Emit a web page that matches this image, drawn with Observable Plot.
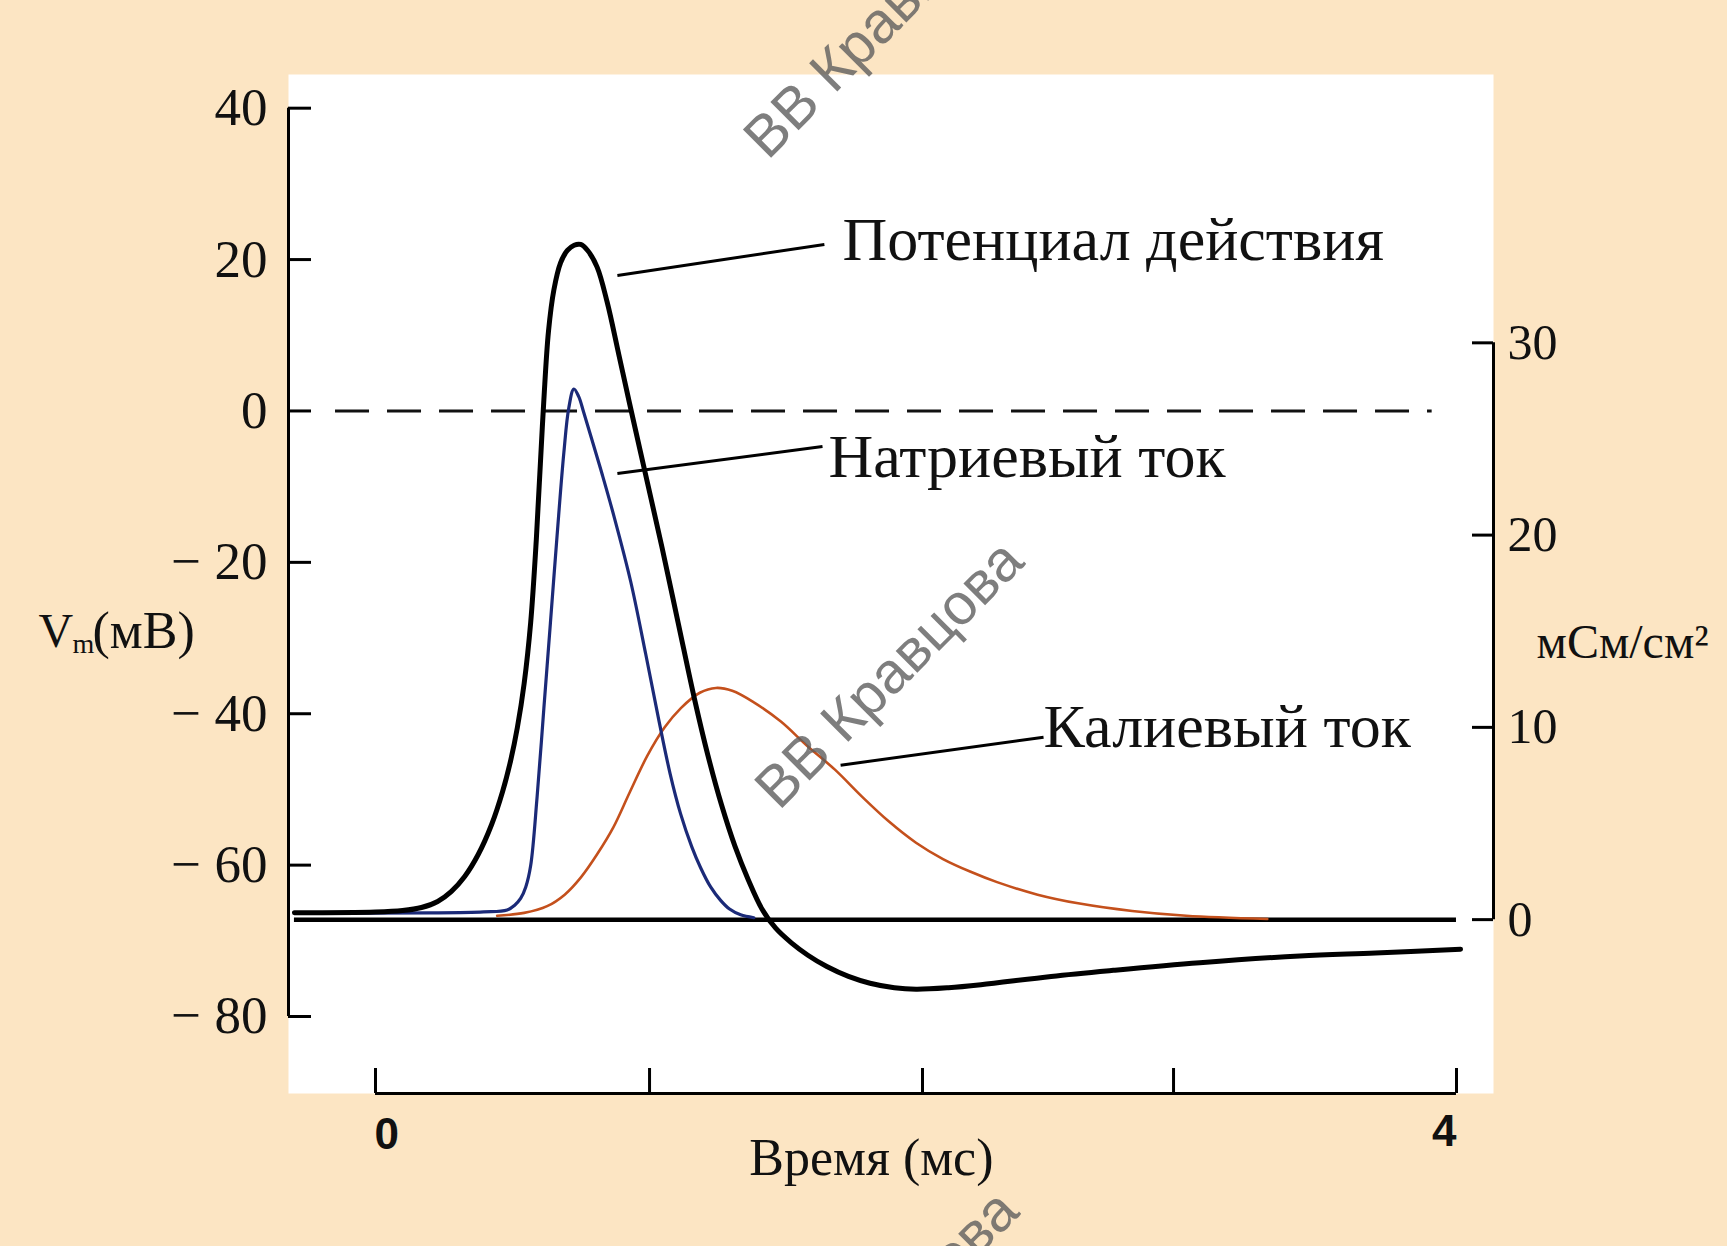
<!DOCTYPE html>
<html>
<head>
<meta charset="utf-8">
<script src="https://cdn.jsdelivr.net/npm/d3@7"></script>
<script src="https://cdn.jsdelivr.net/npm/@observablehq/plot@0.6"></script>
<style>
  html, body { margin: 0; padding: 0; background: #fce5c3; }
  #chart svg { display: block; }
</style>
</head>
<body>
<div id="chart"></div>
<script>
// ---- Data ----
// Action potential (time in ms, membrane potential in mV)
const apT = [-0.30, 0.00, 0.10, 0.17, 0.23, 0.28, 0.33, 0.38, 0.43, 0.47, 0.50, 0.525, 0.55, 0.574, 0.595, 0.61, 0.623, 0.64, 0.66, 0.685, 0.71, 0.735, 0.759, 0.785, 0.82, 0.857, 0.90, 0.94, 1.00, 1.06, 1.12, 1.18, 1.23, 1.28, 1.33, 1.38, 1.43, 1.48, 1.54, 1.60, 1.67, 1.75, 1.83, 1.92, 2.00, 2.12, 2.24, 2.50, 2.73, 3.05, 3.42, 3.70, 4.015];
const apV = [-66.3, -66.2, -66.0, -65.6, -64.8, -63.5, -61.5, -58.6, -54.6, -50.3, -46.2, -41.8, -36.0, -28.0, -17.0, -7.0, 1.5, 10.5, 16.0, 19.6, 21.2, 21.9, 22.0, 21.2, 19.0, 14.4, 7.5, 1.0, -8.5, -18.0, -28.0, -38.0, -45.5, -52.0, -57.5, -62.0, -65.8, -68.3, -70.3, -71.9, -73.4, -74.7, -75.6, -76.2, -76.4, -76.2, -75.8, -74.7, -73.9, -72.9, -72.0, -71.6, -71.1];

// Sodium conductance (ms, mS/cm²)
const naT = [-0.30, 0.20, 0.40, 0.487, 0.515, 0.537, 0.556, 0.574, 0.598, 0.623, 0.647, 0.672, 0.697, 0.715, 0.734, 0.752, 0.77, 0.80, 0.84, 0.882, 0.944, 1.00, 1.048, 1.09, 1.129, 1.17, 1.203, 1.24, 1.277, 1.31, 1.351, 1.40];
const naG = [0.35, 0.35, 0.4, 0.5, 0.75, 1.1, 1.7, 2.8, 6.4, 11.0, 15.4, 20.0, 24.3, 26.6, 27.6, 27.2, 26.4, 25.0, 23.1, 21.0, 17.6, 13.8, 10.4, 7.6, 5.5, 3.8, 2.7, 1.7, 1.0, 0.55, 0.25, 0.1];

// Potassium conductance (ms, mS/cm²)
const kT = [0.45, 0.55, 0.635, 0.70, 0.76, 0.82, 0.88, 0.94, 1.005, 1.07, 1.13, 1.20, 1.26, 1.32, 1.40, 1.50, 1.60, 1.70, 1.80, 1.90, 2.00, 2.10, 2.20, 2.30, 2.45, 2.60, 2.80, 3.00, 3.30];
const kG = [0.2, 0.35, 0.7, 1.3, 2.2, 3.4, 4.8, 6.6, 8.5, 10.0, 11.0, 11.8, 12.05, 11.9, 11.3, 10.3, 9.0, 7.8, 6.4, 5.1, 4.0, 3.15, 2.5, 1.95, 1.3, 0.85, 0.45, 0.2, 0.03];

// Axes
const yTicks = [40, 20, 0, -20, -40, -60, -80];
const gTicks = [0, 10, 20, 30];
const xTicks = [0, 1.014, 2.024, 2.953, 4];
const xTickLabels = ["0", "4"];

// Annotations
const labelText = ["Потенциал действия", "Натриевый ток", "Калиевый ток"];
const labelT = [1.728, 1.676, 2.472];
const labelV = [22.5, -6.1, -41.8];
const leaderT1 = [0.895, 0.895, 1.721];
const leaderV1 = [17.9, -8.26, -46.8];
const leaderT2 = [1.661, 1.654, 2.472];
const leaderV2 = [22.0, -4.7, -43.1];

const watermarkText = ["ВВ Кравцова", "ВВ Кравцова", "ВВ Кравцова"];
const watermarkT = [1.861, 1.902, 1.883];
const watermarkV = [51.1, -34.8, -120.7];

// conductance axis (right) expressed on the mV scale
const gZeroMv = -67.2, mvPerG = 2.54;
const gToMv = g => gZeroMv + mvPerG * g;

const xDomain = [-0.322, 4.137];
const yDomain = [-90.17, 44.45];

const W = 1727, H = 1246;
const mL = 288, mR = 234, mT = 74, mB = 153;
const plotW = W - mL - mR, plotH = H - mT - mB;

const apData = apT.map((t, i) => ({t, v: apV[i]}));
const naData = naT.map((t, i) => ({t, v: gToMv(naG[i])}));
const kData = kT.map((t, i) => ({t, v: gToMv(kG[i])}));
const labels = labelText.map((s, i) => ({s, t: labelT[i], v: labelV[i]}));
const leaders = leaderT1.map((t, i) => ({t1: t, v1: leaderV1[i], t2: leaderT2[i], v2: leaderV2[i]}));
const marks = watermarkText.map((s, i) => ({s, t: watermarkT[i], v: watermarkV[i]}));

const serif = "'Liberation Serif', 'Times New Roman', serif";
const sans = "'Liberation Sans', Arial, sans-serif";
const fmtY = d => d < 0 ? "\u2212 " + (-d) : String(d);

const chart = Plot.plot({
  width: W, height: H,
  marginLeft: mL, marginRight: mR, marginTop: mT, marginBottom: mB,
  style: {background: "#fce5c3", fontFamily: serif, color: "#111"},
  x: {domain: xDomain, axis: null},
  y: {domain: yDomain, axis: null},
  marks: [
    Plot.frame({fill: "white", stroke: null}),
    // zero-mV dashed reference line
    Plot.ruleY([0], {x1: -0.148, x2: 3.91, stroke: "#111", strokeWidth: 3, strokeDasharray: "34,18"}),
    // zero-conductance baseline
    Plot.ruleY([gToMv(0)], {x1: -0.30, x2: 4.0, stroke: "#000", strokeWidth: 4.5}),
    Plot.line(kData, {x: "t", y: "v", stroke: "#c4501c", strokeWidth: 2.6, curve: "catmull-rom"}),
    Plot.line(naData, {x: "t", y: "v", stroke: "#1b2a78", strokeWidth: 3.2, curve: "catmull-rom"}),
    Plot.line(apData, {x: "t", y: "v", stroke: "#000", strokeWidth: 5, curve: "catmull-rom"}),
    // leader lines and labels
    Plot.link(leaders, {x1: "t1", y1: "v1", x2: "t2", y2: "v2", stroke: "#000", strokeWidth: 3}),
    Plot.text(labels, {x: "t", y: "v", text: "s", textAnchor: "start", lineAnchor: "middle", fontSize: 62, fill: "#111", fontFamily: serif}),
    // left axis
    Plot.ruleX([xDomain[0]], {y1: -80, y2: 40, stroke: "#000", strokeWidth: 3}),
    Plot.tickY(yTicks, {y: d => d, insetRight: plotW - 23, stroke: "#000", strokeWidth: 3}),
    Plot.text(yTicks, {y: d => d, text: fmtY, frameAnchor: "left", textAnchor: "end", dx: -21, fontSize: 53, fill: "#111", fontFamily: serif}),
    // right axis
    Plot.ruleX([xDomain[1]], {y1: gToMv(0), y2: gToMv(30), stroke: "#000", strokeWidth: 3}),
    Plot.tickY(gTicks, {y: gToMv, insetLeft: plotW - 21, stroke: "#000", strokeWidth: 3}),
    Plot.text(gTicks, {y: gToMv, text: d => String(d), frameAnchor: "right", textAnchor: "start", dx: 14, fontSize: 50, fill: "#111", fontFamily: serif}),
    Plot.text(["мСм/см²"], {frameAnchor: "right", y: gToMv(14.4), textAnchor: "start", dx: 43, fontSize: 48, fill: "#111", fontFamily: serif}),
    // left axis title V_m(мВ)
    Plot.text(["V"], {frameAnchor: "left", y: -29.1, textAnchor: "start", dx: 38 - mL, fontSize: 48, fill: "#111", fontFamily: serif}),
    Plot.text(["m"], {frameAnchor: "left", y: -29.1, textAnchor: "start", dx: 72 - mL, dy: 13, fontSize: 28, fill: "#111", fontFamily: serif}),
    Plot.text(["(мВ)"], {frameAnchor: "left", y: -29.1, textAnchor: "start", dx: 92 - mL, fontSize: 52, fill: "#111", fontFamily: serif}),
    // bottom axis
    Plot.ruleY([yDomain[0]], {x1: 0, x2: 4, stroke: "#000", strokeWidth: 3}),
    Plot.tickX(xTicks, {x: d => d, insetTop: plotH - 25, stroke: "#000", strokeWidth: 3}),
    Plot.text([xTicks[0]], {x: d => d, frameAnchor: "bottom", text: () => xTickLabels[0], textAnchor: "start", dy: 55, dx: -1, fontSize: 44, fontWeight: "bold", fill: "#111", fontFamily: sans}),
    Plot.text([xTicks[4]], {x: d => d, frameAnchor: "bottom", text: () => xTickLabels[1], textAnchor: "end", dy: 52, fontSize: 44, fontWeight: "bold", fill: "#111", fontFamily: sans}),
    Plot.text(["Время (мс)"], {x: 1.835, frameAnchor: "bottom", dy: 81, textAnchor: "middle", fontSize: 52, fill: "#111", fontFamily: serif}),
    // watermarks
    Plot.text(marks, {x: "t", y: "v", text: "s", rotate: -45, textAnchor: "middle", lineAnchor: "middle", fontSize: 58, fill: "#5e5e5e", fillOpacity: 0.8, fontFamily: sans})
  ]
});
document.getElementById("chart").appendChild(chart);
</script>
</body>
</html>
